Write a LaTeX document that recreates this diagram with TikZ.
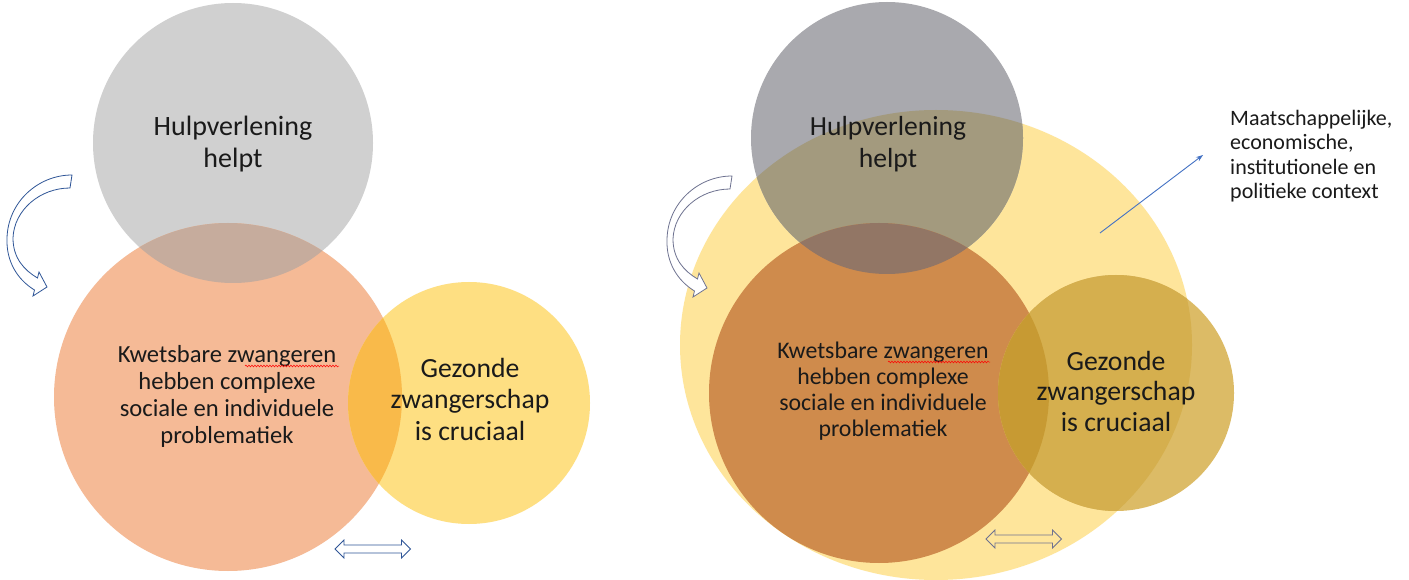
\documentclass[tikz,border=0pt]{standalone}
\usepackage{fontspec}
\setmainfont{Carlito}
\usetikzlibrary{shapes.geometric,decorations.pathmorphing,arrows.meta}
\definecolor{grayL}{HTML}{D0D0D0}
\definecolor{orangeL}{HTML}{F5BA96}
\definecolor{grayorangeL}{HTML}{C6AC9D}
\definecolor{yellowL}{HTML}{FEDF82}
\definecolor{orangeyellowL}{HTML}{F9BA4A}
\definecolor{bigY}{HTML}{FEE59B}
\definecolor{grayR}{HTML}{A9A9AE}
\definecolor{grayyR}{HTML}{A39A7E}
\definecolor{brownR}{HTML}{CF8B4C}
\definecolor{browngrayR}{HTML}{927665}
\definecolor{smallYout}{HTML}{DCBB66}
\definecolor{smallYin}{HTML}{D5AF4E}
\definecolor{smallYbrown}{HTML}{C79A33}
\definecolor{arrowblue}{HTML}{2F5597}
\definecolor{arrowgray}{HTML}{6E7290}
\definecolor{lineblue}{HTML}{4472C4}
\definecolor{txtcol}{HTML}{1A1A1A}
\tikzset{
  blob/.style={circle, inner sep=0pt, draw=none},
  txt/.style={align=center, inner sep=0pt, text=txtcol},
  squiggle/.style={red, line width=0.5pt, decorate, decoration={snake, amplitude=0.9pt, segment length=3pt}},
  curvarrow/.pic={
    \draw[pic actions] (72,175) -- (70,188)
      .. controls (40,188) and (14,210) .. (13,238)
      .. controls (13,258) and (24,270) .. (37.5,278)
      -- (39,272) -- (47,287) -- (33,296) -- (34.5,290)
      .. controls (18,280) and (6,262) .. (7,238)
      .. controls (8,202) and (38,175) .. (72,175) -- cycle;
  },
  dblarrow/.pic={
    \draw[pic actions] (-37.75,0) -- (-28.75,-9) -- (-28.75,-4) -- (28.75,-4)
      -- (28.75,-9) -- (37.75,0) -- (28.75,9) -- (28.75,4) -- (-28.75,4)
      -- (-28.75,9) -- cycle;
  }
}
\begin{document}
\begin{tikzpicture}[x=1pt,y=-1pt]
\useasboundingbox[fill=white] (0,0) rectangle (1409,580);

% ---------------- left diagram ----------------
\node[blob, minimum size=280pt, fill=grayL] (hulpL) at (233,143) {};
\node[blob, minimum size=348pt, fill=orangeL] (kwetsL) at (228,397) {};
\begin{scope}
  \clip (kwetsL.center) circle[radius=174pt];
  \fill[grayorangeL] (hulpL.center) circle[radius=140pt];
\end{scope}
\node[blob, minimum size=242pt, fill=yellowL] (gezL) at (469,403) {};
\begin{scope}
  \clip (kwetsL.center) circle[radius=174pt];
  \fill[orangeyellowL] (gezL.center) circle[radius=121pt];
\end{scope}

\node[txt, font=\fontsize{28}{32}\selectfont] (hulpLt) at (233,144) {Hulpverlening\\helpt};
\node[txt, font=\fontsize{24.6}{27}\selectfont] (kwetsLt) at (227,396) {Kwetsbare zwangeren\\hebben complexe\\sociale en individuele\\problematiek};
\node[txt, font=\fontsize{27.7}{31.5}\selectfont] (gezLt) at (470,399) {Gezonde\\zwangerschap\\is cruciaal};
\coordinate (sqLa) at (245,366);
\coordinate (sqLb) at (339,366);
\draw[squiggle] (sqLa) -- (sqLb);

\pic[draw=arrowblue, fill=white, line width=0.8pt] (cvL) at (0,0) {curvarrow};
\pic[draw=arrowblue, fill=white, line width=0.8pt] (daL) at (372.75,549) {dblarrow};

% ---------------- right diagram ----------------
\node[ellipse, inner sep=0pt, minimum width=512pt, minimum height=470pt, fill=bigY] (ctxR) at (936,345) {};
\node[blob, minimum size=272pt, fill=grayR] (hulpR) at (887,138) {};
\begin{scope}
  \clip (ctxR.center) ellipse[x radius=256pt, y radius=235pt];
  \fill[grayyR] (hulpR.center) circle[radius=136pt];
\end{scope}
\node[blob, minimum size=340pt, fill=brownR] (kwetsR) at (879,393) {};
\begin{scope}
  \clip (hulpR.center) circle[radius=136pt];
  \fill[browngrayR] (kwetsR.center) circle[radius=170pt];
\end{scope}
\node[blob, minimum size=236pt, fill=smallYout] (gezR) at (1116,393) {};
\begin{scope}
  \clip (ctxR.center) ellipse[x radius=256pt, y radius=235pt];
  \fill[smallYin] (gezR.center) circle[radius=118pt];
\end{scope}
\begin{scope}
  \clip (kwetsR.center) circle[radius=170pt];
  \fill[smallYbrown] (gezR.center) circle[radius=118pt];
\end{scope}

\node[txt, font=\fontsize{27.6}{32}\selectfont] (hulpRt) at (888,144) {Hulpverlening\\helpt};
\node[txt, font=\fontsize{23.8}{26}\selectfont] (kwetsRt) at (883,391) {Kwetsbare zwangeren\\hebben complexe\\sociale en individuele\\problematiek};
\node[txt, font=\fontsize{27.7}{30.5}\selectfont] (gezRt) at (1116,391) {Gezonde\\zwangerschap\\is cruciaal};
\coordinate (sqRa) at (888,362);
\coordinate (sqRb) at (990,362);
\draw[squiggle] (sqRa) -- (sqRb);

\pic[draw=arrowgray, fill=white, line width=0.8pt] (cvR) at (660,1) {curvarrow};
\pic[draw=arrowgray, fill=bigY, line width=0.8pt] (daR) at (1023.7,539) {dblarrow};

\node[txt, align=left, anchor=west, font=\fontsize{22}{24.5}\selectfont] (ctxT) at (1230,156) {Maatschappelijke,\\economische,\\institutionele en\\politieke context};
\coordinate (ctxA) at (1100,233);
\coordinate (ctxB) at (1203,155);
\draw[lineblue, line width=0.9pt, -{Stealth[length=7pt,width=5pt]}] (ctxA) -- (ctxB);
\end{tikzpicture}
\end{document}
